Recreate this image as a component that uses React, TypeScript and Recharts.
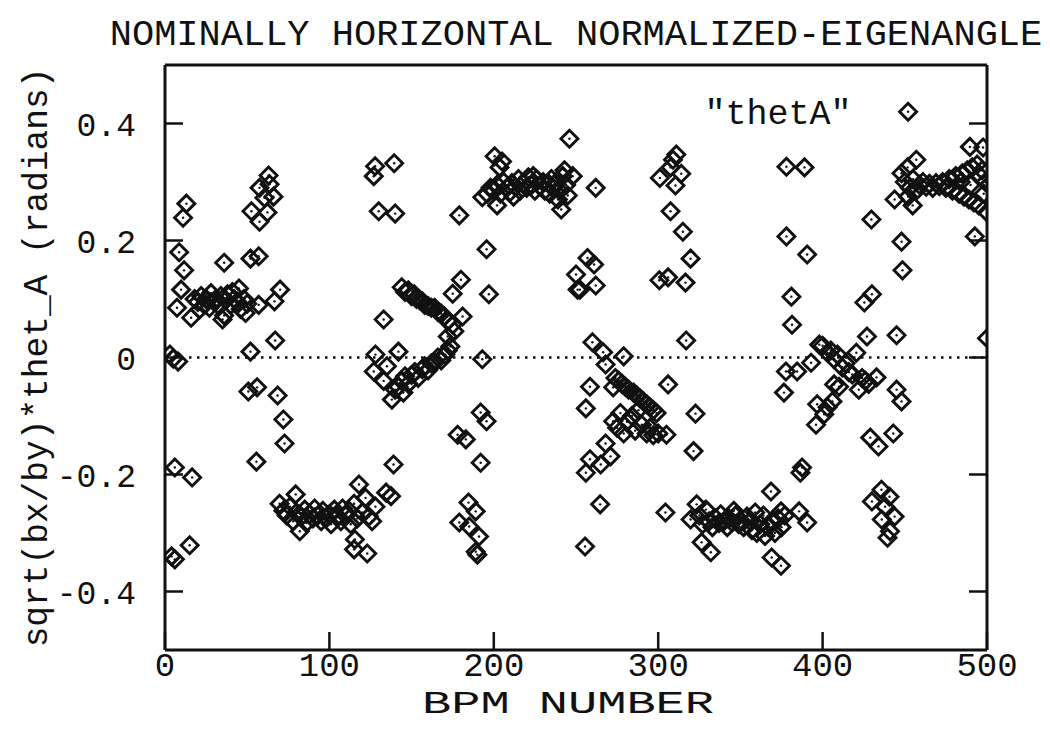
import { ScatterChart, Scatter, XAxis, YAxis, ReferenceLine, Label } from 'recharts'

const FONT = '"Liberation Mono", "Courier New", monospace'

const X_TICKS = [0, 100, 200, 300, 400, 500]
const Y_TICKS = [-0.4, -0.2, 0, 0.2, 0.4]
const Y_TICK_LABELS: Record<string, string> = { '-0.4': '-0.4', '-0.2': '-0.2', '0': '0', '0.2': '0.2', '0.4': '0.4' }

// [bpm, sqrt(bx/by)*thet_A], grouped by stretch of BPM number
const BPM_0_70: [number, number][] = [
  [3, 0.005], [5, -0.002], [8, -0.007], [4, -0.34], [6, -0.345], [15, -0.321],
  [6, -0.188], [16.5, -0.205], [13, 0.263], [11, 0.239], [8.6, 0.18], [11.6, 0.149],
  [9.8, 0.116], [7.3, 0.085], [15.9, 0.068],
  [18, 0.1], [20, 0.095], [21, 0.082], [22, 0.105], [24, 0.09], [25, 0.1], [27, 0.085],
  [28, 0.11], [30, 0.095], [31, 0.1], [33, 0.088], [34, 0.105], [35, 0.065], [36, 0.072],
  [37, 0.098], [38, 0.108], [40, 0.09], [41, 0.112], [42, 0.1], [44, 0.095], [45, 0.118],
  [46, 0.083], [48, 0.1], [49, 0.076], [50, 0.092],
  [36, 0.162], [52, 0.169], [57, 0.173], [57, 0.09], [66.6, 0.096], [70, 0.116],
  [67, 0.029], [52, 0.01],
  [63, 0.311], [57.5, 0.29], [63.6, 0.296], [66, 0.275], [60.5, 0.273], [52.6, 0.25],
  [62.3, 0.248], [57.5, 0.232],
  [50.7, -0.058], [56, -0.051], [68.5, -0.065], [72, -0.106], [72.7, -0.147], [55.6, -0.178],
]

const BPM_70_130: [number, number][] = [
  [69.7, -0.25], [79.5, -0.234], [82, -0.297], [72, -0.262], [74, -0.27], [76, -0.255],
  [78, -0.28], [80, -0.265], [83, -0.272], [85, -0.26], [86, -0.283], [88, -0.268],
  [90, -0.275], [91, -0.258], [93, -0.27], [95, -0.28], [96, -0.262], [98, -0.275],
  [100, -0.268], [101, -0.285], [103, -0.26], [105, -0.272], [107, -0.28], [108, -0.258],
  [110, -0.27], [112, -0.262], [113, -0.285], [115, -0.25], [117, -0.275], [118, -0.217],
  [115.5, -0.311], [115, -0.328], [120, -0.265], [122, -0.24], [124, -0.272], [123, -0.335],
  [126, -0.28], [128, -0.255], [134.5, -0.231],
]

const BPM_125_200: [number, number][] = [
  [127.8, 0.327], [139.4, 0.332], [127, 0.31], [130, 0.25], [140, 0.246], [133, 0.065],
  [128, 0.005], [142, 0.01], [127, -0.024], [135, -0.015], [133, -0.04], [138, -0.072],
  [137.5, -0.237], [139, -0.183],
  [144, 0.12], [146, 0.112], [148, 0.115], [150, 0.105], [151.6, 0.108], [153, 0.1],
  [155, 0.098], [156.5, 0.096], [158, 0.09], [160, 0.088], [162, 0.085], [164, 0.085],
  [166, 0.078], [168, 0.075], [170, 0.07], [172, 0.062], [175, 0.056], [181, 0.07],
  [172, 0.036], [173.6, 0.019], [176, 0.045],
  [140, -0.055], [142, -0.05], [144, -0.04], [145, -0.06], [146, -0.032], [148, -0.045],
  [150, -0.03], [152, -0.025], [154, -0.035], [156.5, -0.02], [158, -0.015], [160, -0.022],
  [162, -0.01], [164, -0.009], [166, 0.0], [168, -0.005], [170.5, 0.005], [172, 0.012],
  [179, 0.243], [195.6, 0.185], [197, 0.108], [180, 0.133], [175, 0.109], [193, -0.003],
  [178, -0.132], [183, -0.14], [192, -0.094], [195.6, -0.109], [192, -0.18],
  [184.6, -0.248], [189, -0.263], [179, -0.282], [185, -0.289], [191, -0.306], [189, -0.332],
  [190, -0.337],
]

const BPM_190_250: [number, number][] = [
  [200.5, 0.344], [205, 0.335], [203.5, 0.325], [193, 0.274], [202, 0.26], [246, 0.374],
  [243, 0.32], [245, 0.277], [241, 0.253],
  [196, 0.28], [198, 0.29], [200, 0.285], [202, 0.295], [204, 0.28], [206, 0.3], [208, 0.29],
  [210, 0.283], [211, 0.298], [212, 0.275], [213, 0.292], [215, 0.305], [216, 0.285],
  [218, 0.298], [220, 0.29], [221, 0.308], [223, 0.295], [224, 0.31], [225, 0.285],
  [226, 0.305], [228, 0.293], [230, 0.3], [231, 0.285], [233, 0.298], [234, 0.28],
  [235, 0.305], [236, 0.29], [238, 0.3], [239, 0.27], [240, 0.285], [242, 0.31], [244, 0.295],
  [248, 0.31], [250, 0.142], [251, 0.116], [262, 0.29],
]

const BPM_250_330: [number, number][] = [
  [257, 0.17], [261, 0.159], [252.4, 0.116], [262, 0.123],
  [260, 0.026], [266.5, 0.009], [279, 0.002], [268, -0.012], [258.5, -0.05], [256, -0.087],
  [272.6, -0.051], [274, -0.035], [276, -0.04], [278, -0.045], [280, -0.05], [282, -0.055],
  [285, -0.06], [287, -0.065], [289, -0.07], [291, -0.075], [293, -0.08], [295, -0.085],
  [297, -0.09], [299, -0.095],
  [306, -0.046], [322.7, -0.096], [321.5, -0.16],
  [268, -0.147], [271, -0.169], [265, -0.183], [258.5, -0.174], [256, -0.197],
  [272.6, -0.109], [275, -0.12], [277, -0.095], [279, -0.13], [281, -0.11], [284, -0.1],
  [286, -0.125], [288, -0.09], [290, -0.115], [293, -0.13], [295, -0.12], [297, -0.133],
  [300, -0.13], [305, -0.132],
  [264.7, -0.251], [255.5, -0.323], [304.4, -0.265],
  [301, 0.307], [314, 0.314], [310.5, 0.294], [311, 0.347], [309, 0.338], [307.5, 0.325],
  [307.5, 0.25], [315, 0.215], [319.7, 0.169], [300.7, 0.132], [306, 0.137], [316.6, 0.128],
  [317, 0.029],
]

const BPM_320_390: [number, number][] = [
  [319.7, -0.277], [323.4, -0.251], [326.4, -0.316], [332, -0.333],
  [325, -0.27], [327, -0.285], [329, -0.26], [331, -0.28], [333, -0.29], [335, -0.275],
  [337, -0.283], [338, -0.268], [340, -0.28], [342, -0.29], [343, -0.275], [345, -0.282],
  [346, -0.262], [347, -0.27], [349, -0.285], [350, -0.278], [352, -0.29], [354, -0.272],
  [356, -0.28], [357, -0.295], [359, -0.265], [360, -0.3], [362, -0.285], [364, -0.27],
  [365, -0.305], [367, -0.29], [369, -0.28], [371, -0.3], [373, -0.275], [375, -0.29],
  [368.6, -0.229], [374.7, -0.263], [369, -0.342], [374.7, -0.356], [377, -0.27],
  [377.7, -0.024], [376.5, -0.06], [384.5, -0.024],
  [378, 0.326], [389, 0.325], [378, 0.207], [390.6, 0.176], [381, 0.104], [381.4, 0.056],
]

const BPM_385_450: [number, number][] = [
  [385.7, -0.263], [390.6, -0.282], [387.5, -0.188], [386.5, -0.197],
  [393, -0.009], [398, 0.022], [400, 0.02], [403, 0.008], [405, 0.012], [407, -0.003],
  [409, 0.005], [412, -0.017], [414, -0.01], [416, -0.025], [418, -0.029], [420.5, 0.008],
  [422, -0.055], [424, -0.035], [426, -0.04], [428, -0.045], [432.8, -0.034],
  [407, -0.046], [396.7, -0.08], [406, -0.075], [401, -0.097], [396, -0.115], [403, -0.085],
  [410, -0.05],
  [445, -0.055], [448, -0.075], [429, -0.137], [434, -0.152], [443, -0.13],
  [435.8, -0.226], [430, -0.246], [440.7, -0.238], [443.8, -0.272], [436, -0.277],
  [441, -0.297], [439.5, -0.308], [438, -0.255],
  [425.4, 0.094], [430, 0.108], [427, 0.036], [445, 0.038], [429.7, 0.236], [448, 0.198],
  [448.6, 0.149], [452, 0.42],
]

const BPM_440_500: [number, number][] = [
  [489.6, 0.36], [497.6, 0.359], [457, 0.338], [451.7, 0.325], [443.8, 0.27], [454.8, 0.26],
  [492.6, 0.207], [500, 0.248], [500, 0.033],
  [448, 0.315], [450, 0.3], [452, 0.275], [453, 0.29], [455, 0.305], [457, 0.285],
  [459, 0.295], [461, 0.3], [463, 0.292], [465, 0.297], [467, 0.29], [469, 0.298],
  [471, 0.293], [473, 0.3], [475, 0.29], [477, 0.305], [479, 0.285], [481, 0.31],
  [483, 0.28], [484, 0.3], [485, 0.315], [486, 0.275], [488, 0.32], [489, 0.27],
  [490, 0.295], [491, 0.325], [492, 0.265], [494, 0.33], [495, 0.26], [496, 0.31],
  [497, 0.32], [498, 0.28], [499, 0.3],
]

const points = [
  ...BPM_0_70, ...BPM_70_130, ...BPM_125_200, ...BPM_190_250,
  ...BPM_250_330, ...BPM_320_390, ...BPM_385_450, ...BPM_440_500,
].map(([x, y]) => ({ x, y }))

const INK = '#111'

const Diamond = (props: any) => {
  const { cx, cy } = props
  if (cx == null || cy == null) return null
  const r = 8.5
  return (
    <g>
      <path d={`M${cx - r},${cy} L${cx},${cy - r} L${cx + r},${cy} L${cx},${cy + r} Z`}
        fill="none" stroke={INK} strokeWidth={2.9} strokeLinejoin="miter" />
      <circle cx={cx} cy={cy} r={1.2} fill={INK} />
    </g>
  )
}

const BottomTick = ({ x, y, payload }: any) => (
  <g>
    <line x1={x} y1={y} x2={x} y2={y - 18} stroke={INK} strokeWidth={2.5} />
    <text x={x} y={y + 26} textAnchor="middle" fontFamily={FONT} fontSize={34} fill={INK}>
      {payload.value}
    </text>
  </g>
)

const LeftTick = ({ x, y, payload }: any) => (
  <g>
    <line x1={x} y1={y} x2={x + 18} y2={y} stroke={INK} strokeWidth={2.5} />
    <text x={x - 29} y={y + 12} textAnchor="end" fontFamily={FONT} fontSize={33} fill={INK}>
      {Y_TICK_LABELS[String(payload.value)] ?? payload.value}
    </text>
  </g>
)

const TopTick = ({ x, y }: any) => (
  <line x1={x} y1={y} x2={x} y2={y + 18} stroke={INK} strokeWidth={2.5} />
)

const RightTick = ({ x, y }: any) => (
  <line x1={x} y1={y} x2={x - 18} y2={y} stroke={INK} strokeWidth={2.5} />
)

export default function App() {
  return (
    <div style={{ position: 'absolute', left: 0, top: 0, width: 1050, height: 738, background: '#fff' }}>
      <div style={{
        position: 'absolute', left: 0, width: 1152, top: 14, textAlign: 'center',
        fontFamily: FONT, fontSize: 37, color: INK, whiteSpace: 'nowrap',
      }}>
        NOMINALLY HORIZONTAL NORMALIZED-EIGENANGLE
      </div>
      <ScatterChart width={1050} height={738} margin={{ top: 64, right: 62, bottom: 28, left: 65 }}>
        <XAxis type="number" dataKey="x" domain={[0, 500]} ticks={X_TICKS} height={60}
          axisLine={{ stroke: INK, strokeWidth: 3 }} tickLine={false} tickSize={0} tickMargin={0}
          tick={<BottomTick />} interval={0} allowDataOverflow />
        <XAxis xAxisId="top" orientation="top" type="number" domain={[0, 500]} ticks={X_TICKS}
          height={1} axisLine={{ stroke: INK, strokeWidth: 3 }} tickLine={false} tickSize={0}
          tickMargin={0} tick={<TopTick />} interval={0} allowDataOverflow />
        <YAxis type="number" dataKey="y" domain={[-0.5, 0.5]} ticks={Y_TICKS} width={100}
          axisLine={{ stroke: INK, strokeWidth: 3 }} tickLine={false} tickSize={0} tickMargin={0}
          tick={<LeftTick />} interval={0} allowDataOverflow>
          <Label value="sqrt(bx/by)*thet_A (radians)" angle={-90} position="insideLeft" offset={-30}
            style={{ fontFamily: FONT, fontSize: 34.5, fill: INK, textAnchor: 'middle' }} />
        </YAxis>
        <YAxis yAxisId="right" orientation="right" type="number" domain={[-0.5, 0.5]} ticks={Y_TICKS}
          width={1} axisLine={{ stroke: INK, strokeWidth: 3 }} tickLine={false} tickSize={0}
          tickMargin={0} tick={<RightTick />} interval={0} allowDataOverflow />
        <ReferenceLine y={0} stroke={INK} strokeWidth={2.5} strokeDasharray="2.5 5.5" />
        <Scatter name="thetA" data={points} shape={<Diamond />} isAnimationActive={false} />
        <text x={778} y={124} textAnchor="middle" fontFamily={FONT} fontSize={35} fill={INK}>"thetA"</text>
        <text x={568} y={713} textAnchor="middle" fontFamily={FONT} fontSize={31} fill={INK}
          textLength={292} lengthAdjust="spacingAndGlyphs">BPM NUMBER</text>
      </ScatterChart>
    </div>
  )
}
